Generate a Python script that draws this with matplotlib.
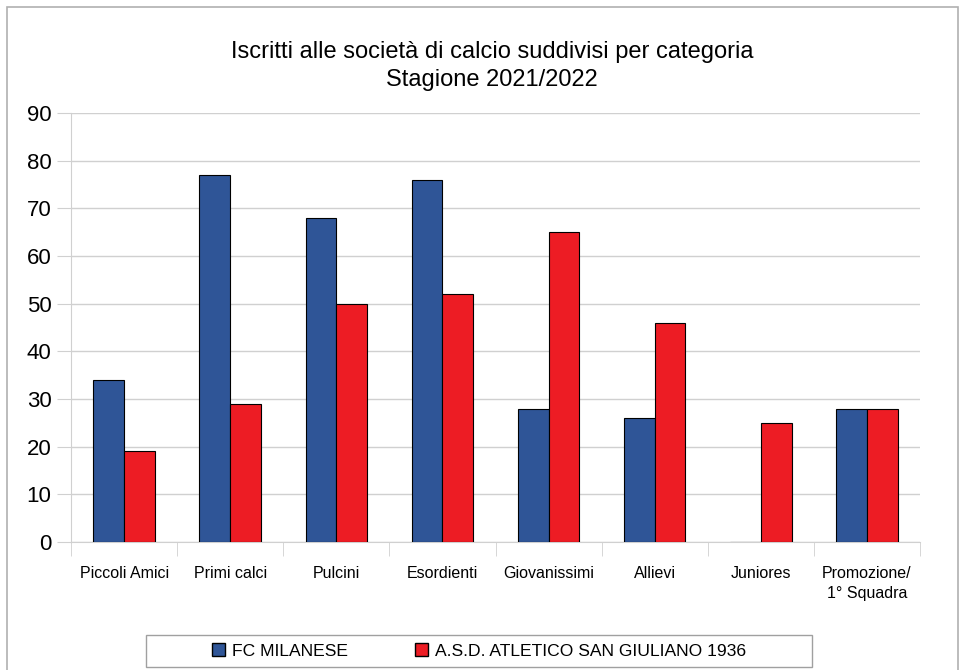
import numpy as np
import matplotlib
matplotlib.use("Agg")
from matplotlib import pyplot as plt
from matplotlib.patches import Rectangle, Patch

categorie = ['Piccoli Amici', 'Primi calci', 'Pulcini', 'Esordienti',
             'Giovanissimi', 'Allievi', 'Juniores', 'Promozione/\n1° Squadra']
fc_milanese = [34, 77, 68, 76, 28, 26, 0, 28]
san_giuliano = [19, 29, 50, 52, 65, 46, 25, 28]
serie = ['FC MILANESE', 'A.S.D. ATLETICO SAN GIULIANO 1936']

plt.rcParams['font.family'] = ['Liberation Sans', 'DejaVu Sans']

blu = '#2f5597'
rosso = '#ed1c24'
grigio = '#d0d0d0'

fig = plt.figure(figsize=(9.69, 6.7), dpi=100)
ax = fig.add_axes([71/969, 1-542/670, (920-71)/969, (542-113)/670])

x = np.arange(len(categorie))
w = 0.29
ax.bar(x - w/2, fc_milanese, w, color=blu, edgecolor='black', linewidth=0.8, zorder=3)
ax.bar(x + w/2, san_giuliano, w, color=rosso, edgecolor='black', linewidth=0.8, zorder=3)

ax.set_xlim(-0.5, len(categorie) - 0.5)
ax.set_ylim(0, 90)
ax.set_yticks(range(0, 91, 10))
ax.grid(axis='y', color=grigio, linewidth=1, zorder=0)
ax.set_xticks(x)
ax.set_xticklabels(categorie, fontsize=11.5, linespacing=1.45, va='top')
ax.set_xticks(np.arange(-0.5, len(categorie)), minor=True)
ax.tick_params(axis='x', which='major', length=0, pad=17)
ax.tick_params(axis='x', which='minor', length=10, color=grigio)
ax.tick_params(axis='y', length=10, color=grigio, labelsize=16, pad=4)
for s in ['top', 'right']:
    ax.spines[s].set_visible(False)
for s in ['left', 'bottom']:
    ax.spines[s].set_color(grigio)

fig.text(0.508, 1-52/670, 'Iscritti alle società di calcio suddivisi per categoria',
         ha='center', va='center', fontsize=17)
fig.text(0.508, 1-80/670, 'Stagione 2021/2022', ha='center', va='center', fontsize=17)

# cornice esterna
fig.patches.append(Rectangle((7/969, -0.05), (958-7)/969, 1.05 - 7/670, transform=fig.transFigure,
                             fill=False, edgecolor='#b0b0b0', linewidth=1.2))

# riquadro legenda
fig.patches.append(Rectangle((146/969, 1-667/670), (812-146)/969, 32/670, transform=fig.transFigure,
                             fill=False, edgecolor='#a0a0a0', linewidth=1))

maniglie = [Patch(facecolor=blu, edgecolor='black'), Patch(facecolor=rosso, edgecolor='black')]
fig.legend(maniglie, serie, loc='center', bbox_to_anchor=(479/969, 1-651/670), ncol=2,
           fontsize=12.6, frameon=False,
           handlelength=0.75, handleheight=0.75, handletextpad=0.4, columnspacing=3.8)

fig.savefig('out.png', dpi=100)
